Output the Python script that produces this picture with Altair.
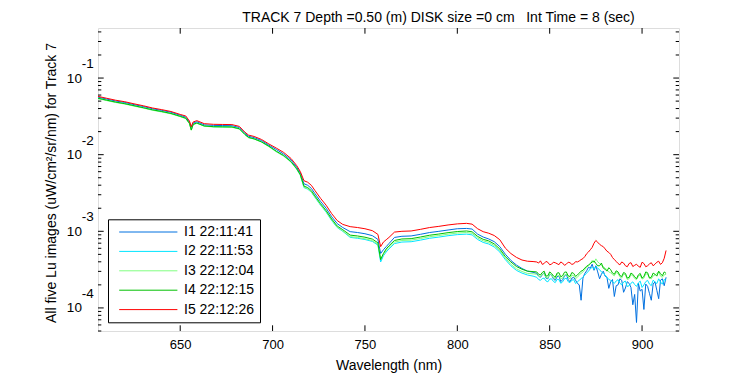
import altair as alt
import pandas as pd

FONT = "Liberation Sans"

# wavelength grid (nm): smooth part, then 1 nm steps in the noisy tail
wavelength_main = [605.5, 610, 615, 620, 625, 630, 635, 640, 645, 650,
                   653, 655, 656, 657, 659, 663, 668, 673, 678, 682, 685, 687, 690, 694, 698,
                   702, 706, 710, 713, 715,
                   717, 719, 721, 723, 726, 729, 732, 735, 738,
                   742, 746, 750, 754, 757,
                   758.5, 760, 761.5, 763, 766,
                   770, 775, 780, 785, 790, 795, 800, 805, 808,
                   811, 814, 817, 820, 823, 826, 829, 832, 835, 838, 841]
wavelength_tail = list(range(843, 914))

i1_main = [5.64e-2, 5.33e-2, 5.02e-2, 4.80e-2, 4.50e-2, 4.25e-2, 3.98e-2, 3.78e-2, 3.58e-2, 3.27e-2,
           3.09e-2, 2.66e-2, 2.26e-2, 2.58e-2, 2.69e-2, 2.45e-2, 2.41e-2, 2.40e-2, 2.39e-2, 2.26e-2, 1.90e-2, 1.74e-2, 1.67e-2, 1.53e-2, 1.33e-2,
           1.17e-2, 1.02e-2, 8.51e-3, 6.91e-3, 5.76e-3,
           4.17e-3, 3.99e-3, 3.63e-3, 3.09e-3, 2.45e-3, 2.00e-3, 1.55e-3, 1.26e-3, 1.12e-3,
           9.90e-4, 9.64e-4, 9.30e-4, 8.78e-4, 7.85e-4,
           5.13e-4, 5.75e-4, 6.31e-4, 6.92e-4, 8.32e-4,
           8.61e-4, 8.70e-4, 9.13e-4, 9.64e-4, 9.99e-4, 1.04e-3, 1.08e-3, 1.09e-3, 1.07e-3,
           9.19e-4, 8.42e-4, 7.94e-4, 7.33e-4, 6.31e-4, 5.02e-4, 4.17e-4, 3.63e-4, 3.27e-4, 3.02e-4, 2.92e-4]
i2_main = [5.45e-2, 5.15e-2, 4.85e-2, 4.64e-2, 4.35e-2, 4.11e-2, 3.84e-2, 3.65e-2, 3.46e-2, 3.16e-2,
           2.99e-2, 2.57e-2, 2.12e-2, 2.47e-2, 2.59e-2, 2.37e-2, 2.32e-2, 2.31e-2, 2.30e-2, 2.18e-2, 1.84e-2, 1.68e-2, 1.61e-2, 1.47e-2, 1.29e-2,
           1.10e-2, 9.65e-3, 8.04e-3, 6.53e-3, 5.44e-3,
           3.72e-3, 3.55e-3, 3.24e-3, 2.76e-3, 2.19e-3, 1.78e-3, 1.38e-3, 1.12e-3, 1.00e-3,
           8.33e-4, 8.11e-4, 7.82e-4, 7.38e-4, 6.60e-4,
           3.98e-4, 4.79e-4, 5.37e-4, 5.89e-4, 6.92e-4,
           7.24e-4, 7.31e-4, 7.67e-4, 8.11e-4, 8.40e-4, 8.76e-4, 9.05e-4, 9.19e-4, 8.98e-4,
           7.82e-4, 7.16e-4, 6.83e-4, 6.24e-4, 5.37e-4, 4.27e-4, 3.55e-4, 3.09e-4, 2.85e-4, 2.69e-4, 2.60e-4]
i3_main = [5.38e-2, 5.09e-2, 4.80e-2, 4.58e-2, 4.30e-2, 4.06e-2, 3.80e-2, 3.61e-2, 3.41e-2, 3.13e-2,
           2.95e-2, 2.53e-2, 2.08e-2, 2.45e-2, 2.57e-2, 2.35e-2, 2.30e-2, 2.29e-2, 2.28e-2, 2.16e-2, 1.82e-2, 1.66e-2, 1.60e-2, 1.46e-2, 1.27e-2,
           1.09e-2, 9.58e-3, 7.98e-3, 6.48e-3, 5.40e-3,
           3.76e-3, 3.59e-3, 3.27e-3, 2.79e-3, 2.21e-3, 1.80e-3, 1.40e-3, 1.13e-3, 1.01e-3,
           8.52e-4, 8.30e-4, 8.00e-4, 7.56e-4, 6.76e-4,
           4.37e-4, 5.01e-4, 5.62e-4, 6.17e-4, 7.24e-4,
           7.59e-4, 7.67e-4, 8.05e-4, 8.50e-4, 8.80e-4, 9.18e-4, 9.49e-4, 9.64e-4, 9.41e-4,
           8.20e-4, 7.51e-4, 7.16e-4, 6.53e-4, 5.62e-4, 4.47e-4, 3.71e-4, 3.24e-4, 2.99e-4, 2.82e-4, 2.79e-4]
i4_main = [5.45e-2, 5.16e-2, 4.86e-2, 4.63e-2, 4.36e-2, 4.10e-2, 3.85e-2, 3.66e-2, 3.45e-2, 3.17e-2,
           2.99e-2, 2.57e-2, 2.10e-2, 2.49e-2, 2.59e-2, 2.37e-2, 2.32e-2, 2.31e-2, 2.30e-2, 2.18e-2, 1.84e-2, 1.68e-2, 1.61e-2, 1.47e-2, 1.29e-2,
           1.11e-2, 9.76e-3, 8.13e-3, 6.60e-3, 5.50e-3,
           3.89e-3, 3.72e-3, 3.39e-3, 2.88e-3, 2.29e-3, 1.86e-3, 1.45e-3, 1.17e-3, 1.05e-3,
           8.92e-4, 8.69e-4, 8.38e-4, 7.92e-4, 7.08e-4,
           4.27e-4, 5.13e-4, 5.89e-4, 6.46e-4, 7.59e-4,
           7.94e-4, 8.02e-4, 8.42e-4, 8.89e-4, 9.21e-4, 9.61e-4, 9.93e-4, 1.01e-3, 9.85e-4,
           8.58e-4, 7.86e-4, 7.50e-4, 6.84e-4, 5.89e-4, 4.68e-4, 3.98e-4, 3.47e-4, 3.20e-4, 3.02e-4, 2.98e-4]
i5_main = [5.77e-2, 5.46e-2, 5.14e-2, 4.91e-2, 4.61e-2, 4.35e-2, 4.07e-2, 3.87e-2, 3.66e-2, 3.35e-2,
           3.20e-2, 2.75e-2, 2.32e-2, 2.67e-2, 2.78e-2, 2.54e-2, 2.49e-2, 2.48e-2, 2.47e-2, 2.34e-2, 1.97e-2, 1.80e-2, 1.73e-2, 1.58e-2, 1.38e-2,
           1.22e-2, 1.07e-2, 8.91e-3, 7.24e-3, 6.03e-3,
           4.57e-3, 4.37e-3, 3.98e-3, 3.39e-3, 2.69e-3, 2.19e-3, 1.70e-3, 1.38e-3, 1.23e-3,
           1.15e-3, 1.12e-3, 1.08e-3, 1.02e-3, 9.12e-4,
           6.31e-4, 7.24e-4, 7.76e-4, 8.32e-4, 9.77e-4,
           1.00e-3, 1.01e-3, 1.06e-3, 1.12e-3, 1.16e-3, 1.21e-3, 1.25e-3, 1.27e-3, 1.24e-3,
           1.08e-3, 9.89e-4, 9.44e-4, 8.81e-4, 7.76e-4, 6.03e-4, 5.13e-4, 4.57e-4, 4.22e-4, 4.07e-4, 4.03e-4]

# noisy tail 843-913 nm, in units of 1e-4
i1_tail = [2.82, 2.60, 2.51, 2.70, 2.88, 2.45, 2.40, 2.75, 2.69, 2.40, 2.29, 2.55, 2.63, 2.20, 2.34, 2.60,
           2.75, 2.35, 2.19, 2.45, 2.51, 2.30, 2.09, 2.00, 1.26, 2.45, 2.82, 3.05, 3.39, 3.30, 3.72, 3.10,
           3.55, 2.95, 2.40, 2.75, 3.02, 2.60, 2.51, 1.80, 2.19, 2.35, 1.41, 1.95, 2.00, 2.40, 2.29, 1.60,
           1.82, 2.20, 2.09, 1.85, 1.10, 1.50, 0.646, 2.10, 1.66, 1.75, 0.955, 2.05, 1.91, 1.55, 1.26, 2.05,
           2.19, 1.70, 1.32, 2.30, 2.40, 1.95, 2.51]
i2_tail = [2.51, 2.35, 2.29, 2.42, 2.45, 2.25, 2.19, 2.38, 2.40, 2.22, 2.14, 2.36, 2.34, 2.10, 2.19, 2.40,
           2.45, 2.20, 2.14, 2.30, 2.34, 2.08, 2.19, 2.30, 2.40, 2.55, 2.69, 2.85, 3.02, 3.25, 3.39, 3.20,
           3.47, 3.30, 3.16, 2.95, 2.82, 2.70, 2.51, 2.35, 2.29, 2.20, 2.09, 2.25, 2.34, 2.10, 2.00, 2.18,
           2.24, 1.90, 1.95, 2.10, 2.19, 2.02, 1.91, 2.12, 2.24, 1.85, 2.00, 2.20, 2.29, 2.05, 1.95, 2.30,
           2.19, 2.08, 2.40, 2.18, 2.04, 2.35, 2.29]
i3_tail = [2.75, 2.60, 2.57, 2.75, 2.82, 2.50, 2.45, 2.80, 2.69, 2.48, 2.40, 2.72, 2.63, 2.42, 2.45, 2.70,
           2.75, 2.52, 2.40, 2.68, 2.63, 2.42, 2.51, 2.70, 2.82, 2.95, 3.16, 3.40, 3.55, 3.75, 4.17, 3.90,
           4.37, 4.00, 3.80, 3.60, 3.47, 3.30, 3.16, 2.95, 2.88, 2.72, 2.63, 2.90, 2.82, 2.55, 2.45, 2.78,
           2.69, 2.35, 2.40, 2.72, 2.63, 2.42, 2.34, 2.58, 2.69, 2.38, 2.45, 2.80, 2.75, 2.48, 2.40, 2.62,
           2.69, 2.82, 2.95, 2.60, 2.51, 2.70, 2.75]
i4_tail = [2.95, 2.75, 2.69, 2.90, 3.02, 2.60, 2.63, 2.95, 2.82, 2.62, 2.51, 2.85, 2.88, 2.55, 2.63, 2.92,
           2.95, 2.62, 2.57, 2.90, 2.82, 2.58, 2.69, 2.85, 3.02, 3.10, 3.31, 3.50, 3.63, 3.80, 3.98, 4.10,
           3.80, 3.55, 3.55, 3.85, 3.31, 3.20, 3.02, 3.35, 3.16, 2.85, 2.75, 3.05, 2.95, 2.65, 2.57, 2.90,
           2.82, 2.45, 2.51, 2.85, 2.75, 2.55, 2.40, 2.70, 2.82, 2.45, 2.57, 2.95, 2.88, 2.45, 2.51, 2.85,
           2.75, 2.60, 3.02, 2.80, 2.63, 2.95, 2.82]
i5_tail = [3.98, 3.85, 4.12, 3.70, 3.80, 4.05, 3.94, 3.66, 3.72, 3.95, 3.89, 3.78, 3.67, 3.98, 3.85, 3.60,
           3.72, 3.95, 3.89, 3.70, 3.76, 4.02, 3.98, 4.10, 4.27, 4.40, 4.68, 5.10, 5.37, 5.75, 6.17, 7.00,
           7.59, 7.20, 6.76, 6.50, 6.31, 5.90, 5.50, 5.30, 5.01, 4.55, 4.27, 4.05, 3.80, 3.65, 3.98, 3.85,
           3.55, 3.45, 3.80, 3.90, 3.47, 3.60, 3.72, 3.50, 3.39, 3.95, 3.80, 3.45, 3.55, 3.75, 3.89, 3.55,
           3.72, 3.95, 4.07, 3.70, 3.89, 4.45, 5.62]

series_names = ["I1 22:11:41", "I2 22:11:53", "I3 22:12:04", "I4 22:12:15", "I5 22:12:26"]
series_colors = ["#0070E0", "#00E5FF", "#80FF80", "#00C000", "#FF0000"]

x_ticks = [650, 700, 750, 800, 850, 900]
y_major = [1e-4, 1e-3, 1e-2, 1e-1]
y_exp = ["-4", "-3", "-2", "-1"]
y_minor = [5e-5, 6e-5, 7e-5, 8e-5, 9e-5,
           2e-4, 3e-4, 4e-4, 5e-4, 6e-4, 7e-4, 8e-4, 9e-4,
           2e-3, 3e-3, 4e-3, 5e-3, 6e-3, 7e-3, 8e-3, 9e-3,
           2e-2, 3e-2, 4e-2, 5e-2, 6e-2, 7e-2, 8e-2, 9e-2,
           2e-1, 3e-1, 4e-1]

title_text = "TRACK 7 Depth =0.50 (m) DISK size =0 cm\u00a0\u00a0\u00a0Int Time = 8 (sec)"

W, H = 581, 303
MAJ, MIN = 5.7, 3.3

rows = []
mains = [i1_main, i2_main, i3_main, i4_main, i5_main]
tails = [i1_tail, i2_tail, i3_tail, i4_tail, i5_tail]
for name, vm, vt in zip(series_names, mains, tails):
    for w, v in zip(wavelength_main, vm):
        rows.append({"wavelength": w, "value": v, "series": name})
    for w, v in zip(wavelength_tail, vt):
        rows.append({"wavelength": w, "value": v * 1e-4, "series": name})
df = pd.DataFrame(rows)

xscale = alt.Scale(domain=[605.5, 920], nice=False, zero=False)
yscale = alt.Scale(type="log", domain=[5e-5, 0.45], nice=False)

xaxis = alt.Axis(values=x_ticks, title="Wavelength (nm)", grid=False, ticks=False,
                 tickSize=0, domain=False, labelPadding=7, labelFontSize=13,
                 labelFont=FONT, labelColor="black", titleFont=FONT, titleFontSize=14,
                 titleFontWeight="normal", titleColor="black", titleY=34,
                 titleBaseline="middle")
yaxis = alt.Axis(values=y_major, labelExpr="'10'", title="All five Lu images (uW/cm²/sr/nm) for Track 7",
                 grid=False, ticks=False, tickSize=0, domain=False, labelPadding=16.6,
                 labelFontSize=13.5, labelFont=FONT, labelColor="black", labelBaseline="middle",
                 titleFont=FONT, titleFontSize=14, titleFontWeight="normal", titleColor="black",
                 titleX=-47, titleY=154.5, titleAlign="center", titleBaseline="middle")

X = alt.X("wavelength:Q", scale=xscale, axis=xaxis)
Y = alt.Y("value:Q", scale=yscale, axis=yaxis)

lines = alt.Chart(df).mark_line(strokeWidth=1, clip=True).encode(
    x=X, y=Y,
    color=alt.Color("series:N", scale=alt.Scale(domain=series_names, range=series_colors),
                    legend=alt.Legend(title=None, orient="none", legendX=10, legendY=191.3,
                                      strokeColor="black", fillColor="white", padding=5.7,
                                      symbolType="M-0.25,0H9.45", symbolSize=144, symbolStrokeWidth=1,
                                      labelOffset=56.3, rowPadding=5.4, labelFontSize=14,
                                      labelFont=FONT, labelColor="black", labelLimit=300,
                                      cornerRadius=0)),
)

xt = pd.DataFrame({"wavelength": x_ticks})
xtick_bottom = alt.Chart(xt).mark_rule(color="black", strokeWidth=1).encode(
    x=X, y=alt.value(H), y2=alt.value(H - MAJ))
xtick_top = alt.Chart(xt).mark_rule(color="black", strokeWidth=1).encode(
    x=X, y=alt.value(0), y2=alt.value(MAJ))

ym = pd.DataFrame({"value": y_major, "exp": y_exp})
yn = pd.DataFrame({"value": y_minor})
ymaj_left = alt.Chart(ym).mark_rule(color="black", strokeWidth=1).encode(
    y=Y, x=alt.value(0), x2=alt.value(MAJ))
ymaj_right = alt.Chart(ym).mark_rule(color="black", strokeWidth=1).encode(
    y=Y, x=alt.value(W), x2=alt.value(W - MAJ))
ymin_left = alt.Chart(yn).mark_rule(color="black", strokeWidth=1).encode(
    y=Y, x=alt.value(0), x2=alt.value(MIN))
ymin_right = alt.Chart(yn).mark_rule(color="black", strokeWidth=1).encode(
    y=Y, x=alt.value(W), x2=alt.value(W - MIN))
exps = alt.Chart(ym).mark_text(align="left", baseline="middle", dy=-14, fontSize=13.5,
                               font=FONT, color="black").encode(
    y=Y, x=alt.value(-16.3), text="exp:N")

chart = alt.layer(lines, xtick_bottom, xtick_top, ymaj_left, ymaj_right, ymin_left, ymin_right, exps).properties(
    width=W, height=H,
    title=alt.Title(title_text, fontSize=14, font=FONT, fontWeight="normal", color="black",
                    dx=50, offset=3),
    padding={"left": 90, "top": 20, "right": 50, "bottom": 45},
    autosize=alt.AutoSizeParams(type="none"),
).configure_view(stroke="black", strokeWidth=1).configure(background="white")

chart.save("out.html", embed_options={"renderer": "svg", "actions": False})
